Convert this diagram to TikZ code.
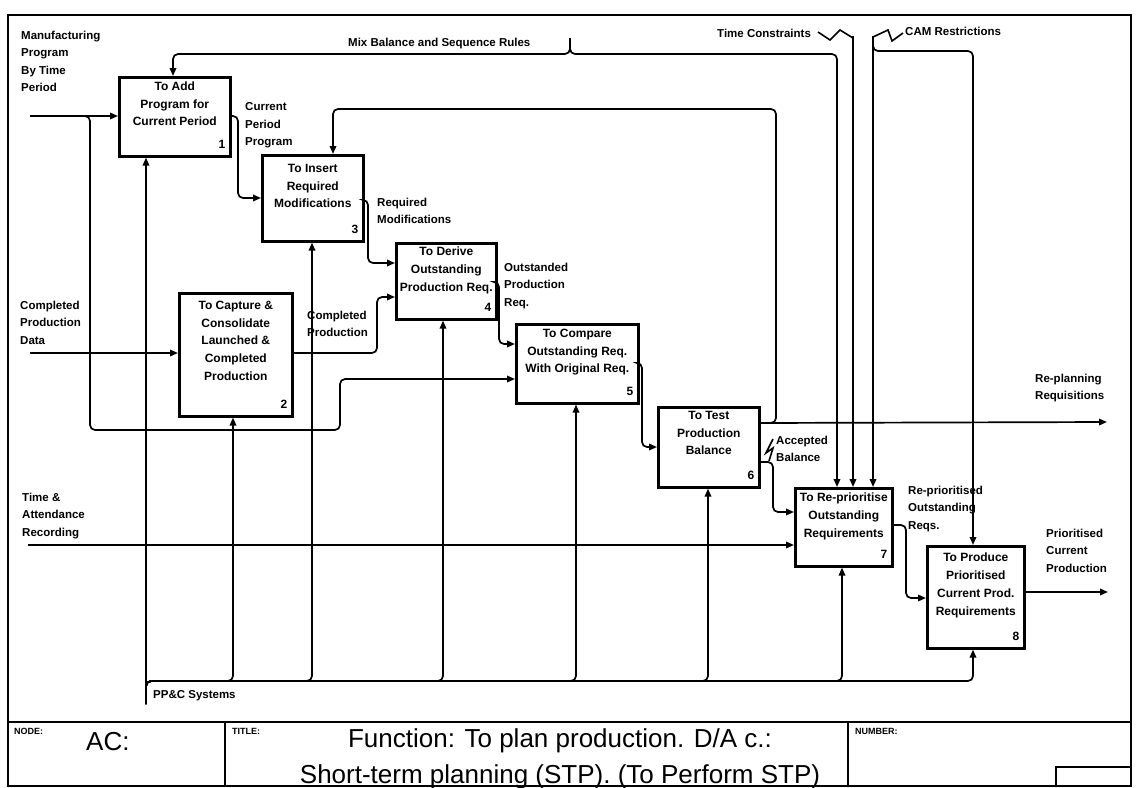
\documentclass[tikz,border=0pt]{standalone}
\usepackage{fontspec}
\setmainfont{Liberation Sans}
\usetikzlibrary{arrows.meta}
\begin{document}
\begin{tikzpicture}[x=1pt,y=-1pt,
  wire/.style={line width=1.7pt, rounded corners=5pt},
  flow/.style={wire, -{Triangle[length=8pt,width=6.5pt]}},
  zig/.style={line width=1.6pt},
  fn/.style={draw, line width=2.6pt, anchor=north west, inner sep=0pt},
  fntext/.style={anchor=north, inner sep=0pt, align=center,
    font=\fontsize{12}{17.7}\selectfont\bfseries},
  fnnum/.style={anchor=south east, inner sep=0pt,
    font=\fontsize{12}{14}\selectfont\bfseries},
  lbl/.style={anchor=north west, inner sep=0pt, align=left,
    font=\fontsize{11.5}{17.6}\selectfont\bfseries},
  small/.style={anchor=north west, inner sep=0pt,
    font=\fontsize{9}{9}\selectfont\bfseries},
]
\useasboundingbox (0,0) rectangle (1139,787);

% sheet frame and title block
\draw[line width=1.6pt] (8,15) rectangle (1131,786);
\draw[line width=1.6pt] (8,722) -- (1131,722);
\draw[line width=1.6pt] (225,722) -- (225,786);
\draw[line width=1.6pt] (848,722) -- (848,786);
\draw[line width=1.4pt] (1056,767) rectangle (1131,786);
\node[small] (nodelbl) at (14,728) {NODE:};
\node[anchor=west, inner sep=0pt, font=\fontsize{26}{26}\selectfont] (nodeid) at (86,742) {AC:};
\node[small] (titlelbl) at (232,728) {TITLE:};
\node[small] (numlbl) at (855,728) {NUMBER:};
\node[align=center, inner sep=0pt, font=\fontsize{26}{36}\selectfont] (title) at (560,759)
  {Function: To plan production. D/A c.:\\Short-term planning (STP). (To Perform STP)};

% activity boxes
\node[fn, minimum width=111pt, minimum height=79pt]  (b1) at (118,76)  {};
\node[fn, minimum width=113pt, minimum height=123pt] (b2) at (178,292) {};
\node[fn, minimum width=101pt, minimum height=86pt]  (b3) at (261,154) {};
\node[fn, minimum width=100pt, minimum height=76pt]  (b4) at (395,242) {};
\node[fn, minimum width=122pt, minimum height=79pt]  (b5) at (515,323) {};
\node[fn, minimum width=101pt, minimum height=80pt]  (b6) at (657,406) {};
\node[fn, minimum width=97pt,  minimum height=78pt]  (b7) at (794,487) {};
\node[fn, minimum width=97pt,  minimum height=102pt] (b8) at (926,545) {};

\node[fntext, yshift=-5.5pt] (b1t) at (b1.north) {To Add\\Program for\\Current Period};
\node[fntext, yshift=-9pt]   (b2t) at (b2.north) {To Capture \&\\Consolidate\\Launched \&\\Completed\\Production};
\node[fntext, yshift=-10pt]  (b3t) at (b3.north) {To Insert\\Required\\Modifications};
\node[fntext, yshift=-5pt]   (b4t) at (b4.north) {To Derive\\Outstanding\\Production Req.};
\node[fntext, yshift=-6pt]   (b5t) at (b5.north) {To Compare\\Outstanding Req.\\With Original Req.};
\node[fntext, yshift=-5pt]   (b6t) at (b6.north) {To Test\\Production\\Balance};
\node[fntext, yshift=-6pt]   (b7t) at (b7.north) {To Re-prioritise\\Outstanding\\Requirements};
\node[fntext, yshift=-8pt]   (b8t) at (b8.north) {To Produce\\Prioritised\\Current Prod.\\Requirements};

\node[fnnum] (b1n) at ([xshift=-6pt,yshift=9pt]b1.south east) {1};
\node[fnnum] (b2n) at ([xshift=-6pt,yshift=9pt]b2.south east) {2};
\node[fnnum] (b3n) at ([xshift=-6pt,yshift=9pt]b3.south east) {3};
\node[fnnum] (b4n) at ([xshift=-6pt,yshift=9pt]b4.south east) {4};
\node[fnnum] (b5n) at ([xshift=-6pt,yshift=9pt]b5.south east) {5};
\node[fnnum] (b6n) at ([xshift=-6pt,yshift=9pt]b6.south east) {6};
\node[fnnum] (b7n) at ([xshift=-6pt,yshift=9pt]b7.south east) {7};
\node[fnnum] (b8n) at ([xshift=-6pt,yshift=9pt]b8.south east) {8};

% arrow labels
\node[lbl] (lmp)  at (21,30.5)   {Manufacturing\\Program\\By Time\\Period};
\node[lbl] (lmix) at (348,37.5)  {Mix Balance and Sequence Rules};
\node[lbl] (ltc)  at (717,28.5)  {Time Constraints};
\node[lbl] (lcam) at (905,26.5)  {CAM Restrictions};
\node[lbl] (lcpp) at (245,102.5) {Current\\Period\\Program};
\node[lbl] (lrm)  at (377,197.5) {Required\\Modifications};
\node[lbl] (lop)  at (504,262.5) {Outstanded\\Production\\Req.};
\node[lbl] (lcp)  at (307,310.5) {Completed\\Production};
\node[lbl] (lcpd) at (20,300.5)  {Completed\\Production\\Data};
\node[lbl] (lrr)  at (1035,373.5){Re-planning\\Requisitions};
\node[lbl] (lab)  at (776,435.5) {Accepted\\Balance};
\node[lbl] (lta)  at (22,492.5)  {Time \&\\Attendance\\Recording};
\node[lbl] (lro)  at (908,485.5) {Re-prioritised\\Outstanding\\Reqs.};
\node[lbl] (lpc)  at (1046,528.5){Prioritised\\Current\\Production};
\node[lbl] (lpp)  at (153,690.5) {PP\&C Systems};

% boundary ends
\coordinate (mi)  at (30,116);
\coordinate (ci)  at (30,353);
\coordinate (ti)  at (28,545);
\coordinate (rr)  at (1107,422);
\coordinate (po)  at (1108,592);
\coordinate (mx)  at (570,38);
\coordinate (tc)  at (853,36);
\coordinate (cam) at (873,36);
\coordinate (pp)  at (146,704);

% inputs
\draw[flow] (mi) -- (b1.west |- 0,116);
\draw[flow] (mi) -- (90,116) -- (90,430) -- (340,430) -- (340,379) -- (b5.west |- 0,379);
\draw[flow] (ci) -- (b2.west |- 0,353);
\draw[flow] (ti) -- (b7.west |- 0,545);

% outputs between activities
\draw[flow] (b1.east |- 0,116) -- (238,116) -- (238,198) -- (b3.west |- 0,198);
\draw[flow] (b3.east |- 0,200) -- (368,200) -- (368,263) -- (b4.west |- 0,263);
\draw[flow] (b2.east |- 0,353) -- (377,353) -- (377,297) -- (b4.west |- 0,297);
\draw[flow] (b4.east |- 0,282) -- (499,282) -- (499,344) -- (b5.west |- 0,344);
\draw[flow] (b5.east |- 0,363) -- (642,363) -- (642,447) -- (b6.west |- 0,447);
\draw[flow] (b6.east |- 0,423) -- (rr);
\draw[flow] (b6.east |- 0,423) -- (776,423) -- (776,109) -- (333,109) -- (b3.north -| 333,0);
\draw[flow] (b6.east |- 0,462) -- (773,462) -- (773,512) -- (b7.west |- 0,512);
\draw[flow] (b7.east |- 0,525) -- (906,525) -- (906,598) -- (b8.west |- 0,598);
\draw[flow] (b8.east |- 0,592) -- (po);

% controls
\draw[flow] (mx) -- (570,54) -- (173,54) -- (b1.north -| 173,0);
\draw[flow] (mx) -- (570,54) -- (837,54) -- (b7.north -| 837,0);
\draw[flow] (tc) -- (b7.north -| tc);
\draw[flow] (cam) -- (b7.north -| cam);
\draw[flow] (cam) -- (873,51) -- (973,51) -- (b8.north -| 973,0);
\draw[zig] (818,32) -- (830,40) -- (840,30) -- (853,38);
\draw[zig] (873,37) -- (888,30) -- (892,41) -- (903,33);
\draw[zig] (773,439) -- (766,453) -- (773,448) -- (769,461);

% mechanisms
\draw[flow] (pp) -- (b1.south -| pp);
\draw[flow] (pp) -- (146,681) -- (233,681) -- (b2.south -| 233,0);
\draw[flow] (pp) -- (146,681) -- (312,681) -- (b3.south -| 312,0);
\draw[flow] (pp) -- (146,681) -- (443,681) -- (b4.south -| 443,0);
\draw[flow] (pp) -- (146,681) -- (576,681) -- (b5.south -| 576,0);
\draw[flow] (pp) -- (146,681) -- (708,681) -- (b6.south -| 708,0);
\draw[flow] (pp) -- (146,681) -- (842,681) -- (b7.south -| 842,0);
\draw[flow] (pp) -- (146,681) -- (973,681) -- (b8.south -| 973,0);
\end{tikzpicture}
\end{document}
